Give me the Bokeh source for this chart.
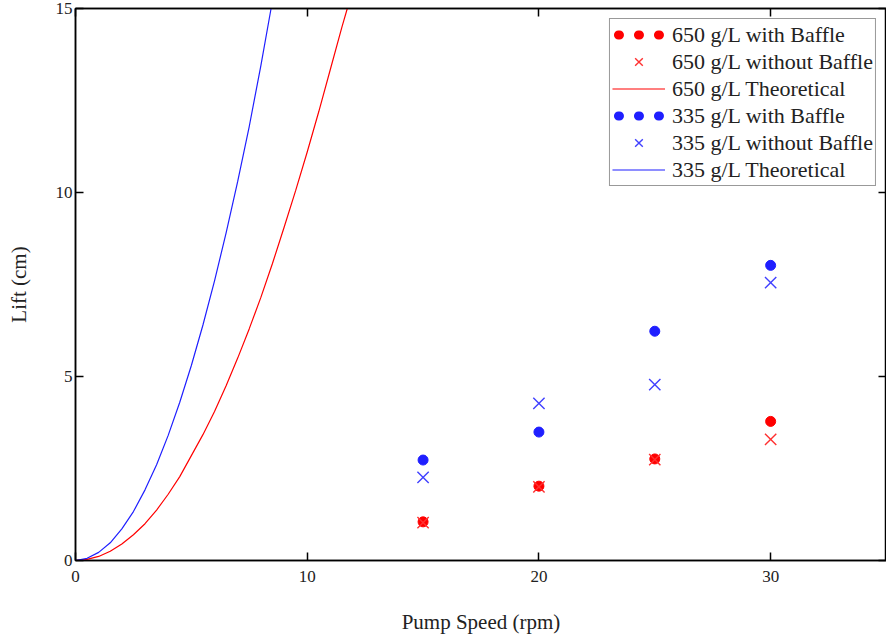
from bokeh.plotting import figure
from bokeh.models import Range1d, LinearAxis, Legend, LegendItem, FixedTicker
from bokeh.embed import file_html
from bokeh.resources import INLINE

# ---- data ----
speed = [15, 20, 25, 30]
red_with = [1.05, 2.02, 2.76, 3.78]
red_without = [1.03, 2.00, 2.74, 3.29]
blue_with = [2.73, 3.49, 6.23, 8.02]
blue_without = [2.26, 4.27, 4.78, 7.55]

red_theory_x = [0, 0.5, 1, 1.5, 2, 2.5, 3, 3.5, 4, 4.5, 5, 5.5, 6, 6.5, 7, 7.5, 8,
                8.5, 9, 9.5, 10, 10.5, 11, 11.5, 11.73]
red_theory_y = [0, 0.03, 0.11, 0.25, 0.45, 0.7, 1.0, 1.37, 1.8, 2.28, 2.85, 3.42, 4.05,
                4.75, 5.5, 6.3, 7.15, 8.07, 9.05, 10.05, 11.1, 12.2, 13.35, 14.5, 15.0]
blue_theory_x = [0, 0.5, 1, 1.5, 2, 2.5, 3, 3.5, 4, 4.5, 5, 5.5, 6, 6.5, 7, 7.5, 8, 8.44]
blue_theory_y = [0, 0.06, 0.22, 0.48, 0.86, 1.33, 1.92, 2.6, 3.4, 4.3, 5.3, 6.4, 7.6,
                 8.9, 10.3, 11.8, 13.45, 15.0]

x_ticks = [0, 10, 20, 30]
y_ticks = [0, 5, 10, 15]

labels = ["650 g/L with Baffle", "650 g/L without Baffle", "650 g/L Theoretical",
          "335 g/L with Baffle", "335 g/L without Baffle", "335 g/L Theoretical"]

RED = "#ff0000"
RED_X = "#ff3030"
BLUE = "#1f1fff"
BLUE_X = "#4040ff"
FONT = "Liberation Serif"
TXT = "#222222"

p = figure(width=886, height=637, output_backend="svg", toolbar_location=None,
           x_range=Range1d(0, 35), y_range=Range1d(0, 15),
           min_border_left=75, min_border_right=0, min_border_top=8, min_border_bottom=77)
p.grid.visible = False
p.outline_line_color = "black"
p.outline_line_width = 1.5
p.background_fill_color = "white"

# hidden range used only so that legend-only renderers have data but stay off-frame
p.extra_y_ranges = {"legend_only": Range1d(start=1000, end=2000)}

# curves
r_red_line = p.line(red_theory_x, red_theory_y, line_color=RED, line_width=1.2)
r_blue_line = p.line(blue_theory_x, blue_theory_y, line_color=BLUE, line_width=1.2)

# with baffle dots
r_red_dots = p.scatter(speed, red_with, marker="circle", size=10, fill_color=RED, line_color=RED)
r_blue_dots = p.scatter(speed, blue_with, marker="circle", size=10, fill_color=BLUE, line_color=BLUE)
# without baffle crosses
r_red_x = p.scatter(speed, red_without, marker="x", size=16, line_color=RED_X, line_width=1.4)
r_blue_x = p.scatter(speed, blue_without, marker="x", size=16, line_color=BLUE_X, line_width=1.4)

# legend-only renderers (dotted thick lines mimic the "• • •" legend sample)
leg_red_dots = p.line(speed, red_with, y_range_name="legend_only", line_color=RED,
                      line_width=9, line_dash="1 19", line_dash_offset=-6, line_cap="round")
leg_blue_dots = p.line(speed, blue_with, y_range_name="legend_only", line_color=BLUE,
                       line_width=9, line_dash="1 19", line_dash_offset=-6, line_cap="round")

# axes styling
for ax in [p.xaxis[0], p.yaxis[0]]:
    ax.axis_line_width = 1.5
    ax.major_tick_in = 8
    ax.major_tick_out = 0
    ax.major_tick_line_width = 1.5
    ax.minor_tick_line_color = None
    ax.major_label_text_font = FONT
    ax.major_label_text_font_size = "17px"
    ax.major_label_text_color = TXT
    ax.axis_label_text_font = FONT
    ax.axis_label_text_font_size = "21px"
    ax.axis_label_text_font_style = "normal"
    ax.axis_label_text_color = TXT

p.xaxis[0].ticker = FixedTicker(ticks=x_ticks)
p.yaxis[0].ticker = FixedTicker(ticks=y_ticks)
p.xaxis[0].axis_label = "Pump Speed (rpm)"
p.yaxis[0].axis_label = "Lift (cm)"
p.xaxis[0].major_label_standoff = 10
p.xaxis[0].axis_label_standoff = 25
p.yaxis[0].major_label_standoff = 3
p.yaxis[0].axis_label_standoff = 22

top_ax = LinearAxis(ticker=FixedTicker(ticks=x_ticks))
right_ax = LinearAxis(ticker=FixedTicker(ticks=y_ticks))
for ax in [top_ax, right_ax]:
    ax.axis_line_width = 1.5
    ax.major_tick_in = 8
    ax.major_tick_out = 0
    ax.major_tick_line_width = 1.5
    ax.minor_tick_line_color = None
    ax.major_label_text_color = None
    ax.major_label_text_font_size = "0px"
    ax.major_label_standoff = 0
p.add_layout(top_ax, "above")
p.add_layout(right_ax, "right")

legend = Legend(items=[
    LegendItem(label=labels[0], renderers=[leg_red_dots]),
    LegendItem(label=labels[1], renderers=[r_red_x]),
    LegendItem(label=labels[2], renderers=[r_red_line]),
    LegendItem(label=labels[3], renderers=[leg_blue_dots]),
    LegendItem(label=labels[4], renderers=[r_blue_x]),
    LegendItem(label=labels[5], renderers=[r_blue_line]),
], location="top_right")
legend.margin = 10
legend.padding = 2
legend.spacing = 0
legend.glyph_width = 53
legend.glyph_height = 27
legend.label_height = 27
legend.label_standoff = 7
legend.label_text_font = FONT
legend.label_text_font_size = "22px"
legend.label_text_color = TXT
legend.border_line_color = "#333333"
legend.border_line_width = 1.2
legend.background_fill_alpha = 1
p.add_layout(legend)

open("out.html", "w").write(file_html(p, INLINE))
